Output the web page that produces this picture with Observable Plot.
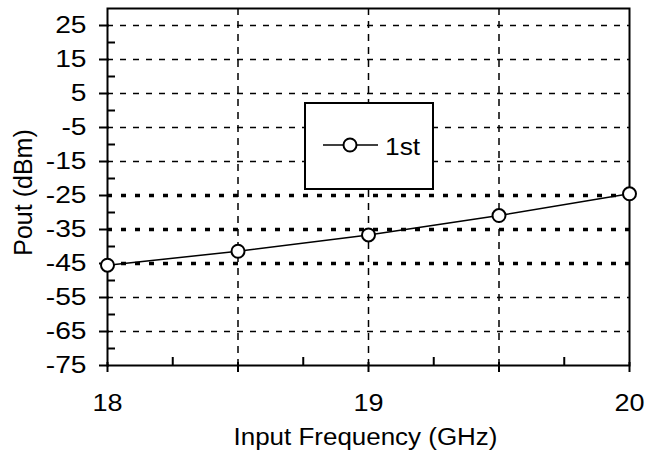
<!DOCTYPE html>
<html>
<head>
<meta charset="utf-8">
<script src="https://cdn.jsdelivr.net/npm/d3@7"></script>
<script src="https://cdn.jsdelivr.net/npm/@observablehq/plot@0.6"></script>
<style>
  html, body { margin: 0; padding: 0; background: white; }
  svg { display: block; }
</style>
</head>
<body>
<div id="chart"></div>
<script>
// ---- data ----
const freq = [18, 18.5, 19, 19.5, 20];
const pout = [-45.5, -41.4, -36.6, -30.9, -24.5];
const seriesName = "1st";

// ---- axes / ticks ----
const xDomain = [18, 20];
const yDomain = [-75, 30];
const xLabelTicks = [18, 19, 20];
const xMajorTicks = [18, 18.5, 19, 19.5, 20];
const xMinorTicks = [18.25, 18.75, 19.25, 19.75];
const yMajorTicks = [25, 15, 5, -5, -15, -25, -35, -45, -55, -65, -75];
const yMinorTicks = [20, 10, 0, -10, -20, -30, -40, -50, -60, -70];
const yGridThin = [25, 15, 5, -5, -15, -55, -65];
const yGridBold = [-25, -35, -45];
const xGrid = [18.5, 19, 19.5];
const xTitle = "Input Frequency (GHz)";
const yTitle = "Pout (dBm)";

const data = freq.map((f, i) => ({freq: f, pout: pout[i]}));
const blank = () => "";
const plain = (d) => String(d);
const FONT = "Liberation Sans, Arial, sans-serif";

const svg = Plot.plot({
  width: 647,
  height: 457,
  marginLeft: 107,
  marginRight: 18,
  marginTop: 8,
  marginBottom: 92,
  style: {fontFamily: FONT, fontSize: "23.5px", background: "white", color: "black"},
  x: {domain: xDomain, label: null},
  y: {domain: yDomain, label: null},
  marks: [
    Plot.ruleY(yGridThin, {stroke: "black", strokeWidth: 1.5, strokeDasharray: "6,7"}),
    Plot.ruleY(yGridBold, {stroke: "black", strokeWidth: 3.5, strokeDasharray: "5,9"}),
    Plot.ruleX(xGrid, {stroke: "black", strokeWidth: 1.5, strokeDasharray: "7,6"}),
    Plot.frame({stroke: "black", strokeWidth: 2}),
    // y axis
    Plot.axisY(yMajorTicks, {tickSize: 10, dx: 2, strokeWidth: 2, tickFormat: blank, label: null}),
    Plot.axisY(yMinorTicks, {tickSize: 8, dx: 8, strokeWidth: 2, tickFormat: blank, label: null}),
    Plot.axisY(yMajorTicks, {tickSize: 0, tickPadding: 21, fontSize: 23.5, tickFormat: plain, label: null}),
    // x axis
    Plot.axisX(xMajorTicks, {tickSize: 10, dy: -3, strokeWidth: 2, tickFormat: blank, label: null}),
    Plot.axisX(xMinorTicks, {tickSize: 8, dy: -8, strokeWidth: 2, tickFormat: blank, label: null}),
    Plot.axisX(xLabelTicks, {tickSize: 0, tickPadding: 29, fontSize: 23.5, tickFormat: plain, label: null}),
    // titles
    Plot.text([xTitle], {frameAnchor: "bottom", textAnchor: "middle", lineAnchor: "middle",
      dy: 71.5, dx: -3, fontSize: 23.5, fill: "black"}),
    Plot.text([yTitle], {frameAnchor: "left", textAnchor: "middle", lineAnchor: "middle",
      rotate: -90, dx: -84, dy: 5.5, fontSize: 25, fill: "black"}),
    // series
    Plot.line(data, {x: "freq", y: "pout", stroke: "black", strokeWidth: 1.5}),
    Plot.dot(data, {x: "freq", y: "pout", r: 6.5, stroke: "black", strokeWidth: 2, fill: "white"})
  ]
});

document.getElementById("chart").appendChild(svg);

// ---- legend ----
const lg = d3.select(svg).append("g").attr("font-family", FONT);
lg.append("rect").attr("x", 305).attr("y", 103).attr("width", 128).attr("height", 86)
  .attr("fill", "white").attr("stroke", "black").attr("stroke-width", 2);
lg.append("line").attr("x1", 323).attr("x2", 378).attr("y1", 145).attr("y2", 145)
  .attr("stroke", "black").attr("stroke-width", 1.5);
lg.append("circle").attr("cx", 350).attr("cy", 145).attr("r", 6.5)
  .attr("fill", "white").attr("stroke", "black").attr("stroke-width", 2);
const legendText = lg.append("text").attr("x", 385).attr("y", 155).attr("font-size", 23.5)
  .attr("text-anchor", "start").attr("fill", "black").text(seriesName);

// ---- widen glyphs horizontally to match the reference face ----
function stretch(el, factor) {
  const w = el.getComputedTextLength();
  if (w > 0) {
    el.setAttribute("textLength", (w * factor).toFixed(2));
    el.setAttribute("lengthAdjust", "spacingAndGlyphs");
  }
}
svg.querySelectorAll('g[aria-label="y-axis tick label"] text')
  .forEach((el) => { if (el.textContent.trim()) stretch(el, 1.2); });
svg.querySelectorAll('g[aria-label="x-axis tick label"] text')
  .forEach((el) => { if (el.textContent.trim()) stretch(el, 1.15); });
stretch(legendText.node(), 1.12);
svg.querySelectorAll('g[aria-label="text"] text').forEach((el) => {
  if (el.textContent === xTitle) {
    const w = el.getComputedTextLength();
    stretch(el, 264 / w);
  }
});
</script>
</body>
</html>
